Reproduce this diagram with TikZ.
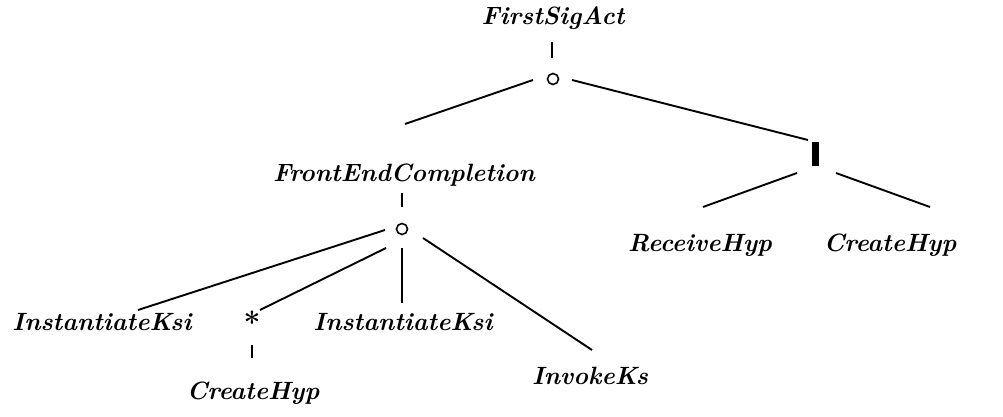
\documentclass[tikz,border=0pt]{standalone}
\begin{document}
\begin{tikzpicture}[x=1pt,y=-1pt,
  lbl/.style={inner sep=0pt,font=\fontsize{25}{28}\selectfont\bfseries\itshape},
  conn/.style={line width=1.9pt},
  opnode/.style={circle,draw,line width=1.6pt,minimum size=11pt,inner sep=0pt},
  barnode/.style={fill=black,minimum width=7pt,minimum height=24pt,inner sep=0pt},
  starnode/.style={inner sep=0pt,font=\fontsize{30}{30}\selectfont\bfseries}]
\useasboundingbox (0,0) rectangle (1003,417);
\node[lbl] (fsa) at (553,18) {FirstSigAct};
\coordinate (t1a) at (552,42);
\coordinate (t1b) at (552,58);
\draw[conn] (t1a) -- (t1b);
\node[opnode] (o1) at (553,79) {};
\coordinate (l1e) at (405,124);
\coordinate (l1s) at (533,80);
\draw[conn] (l1s) -- (l1e);
\coordinate (r1s) at (572,80);
\coordinate (r1e) at (808,140);
\draw[conn] (r1s) -- (r1e);
\node[barnode] (bar) at (815,154) {};
\coordinate (b1s) at (797,173);
\coordinate (b1e) at (703,207);
\coordinate (b2s) at (836,173);
\coordinate (b2e) at (930,207);
\draw[conn] (b1s) -- (b1e);
\draw[conn] (b2s) -- (b2e);
\node[lbl] (rh) at (700,245) {ReceiveHyp};
\node[lbl] (ch1) at (890,245) {CreateHyp};
\node[lbl] (fec) at (404,175) {FrontEndCompletion};
\coordinate (t2a) at (402,193);
\coordinate (t2b) at (402,207);
\draw[conn] (t2a) -- (t2b);
\node[opnode] (o2) at (402,229) {};
\coordinate (a1s) at (385,230);
\coordinate (a1e) at (138,310);
\coordinate (a2s) at (386,248);
\coordinate (a2e) at (260,310);
\coordinate (a3s) at (402,248);
\coordinate (a3e) at (402,303);
\coordinate (a4s) at (423,238);
\coordinate (a4e) at (592,350);
\draw[conn] (a1s) -- (a1e);
\draw[conn] (a2s) -- (a2e);
\draw[conn] (a3s) -- (a3e);
\draw[conn] (a4s) -- (a4e);
\node[lbl] (ik1) at (102,322) {InstantiateKsi};
\node[starnode] (star) at (252,322) {*};
\coordinate (t3a) at (252,345);
\coordinate (t3b) at (252,358);
\draw[conn] (t3a) -- (t3b);
\node[lbl] (ch2) at (253,393) {CreateHyp};
\node[lbl] (ik2) at (403,322) {InstantiateKsi};
\node[lbl] (ik) at (590,376) {InvokeKs};
\end{tikzpicture}
\end{document}
